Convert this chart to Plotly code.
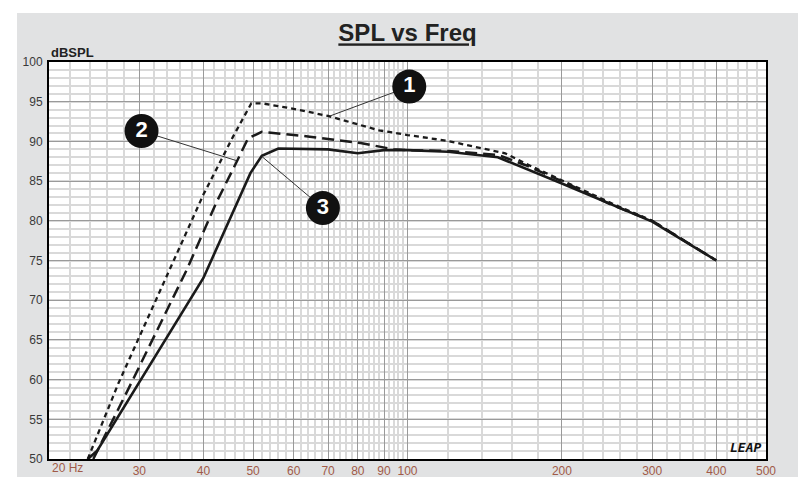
import plotly.graph_objects as go

# ---------------- data ----------------
freq_solid = [23.8, 24.8, 40, 49.4, 52, 56, 70, 80, 90, 100, 120, 138, 150, 200, 300, 400]
spl_solid = [50, 51, 72.8, 86.0, 88.2, 89.1, 89.0, 88.5, 88.9, 88.9, 88.7, 88.3, 88.0, 84.7, 79.9, 75.0]

freq_dot = [23.8, 27.3, 40, 45.7, 49.6, 52, 60, 70, 88, 100, 119, 138, 155, 170, 200, 250, 300, 400]
spl_dot = [50, 59.5, 83.3, 90.6, 94.8, 94.8, 94.1, 93.2, 91.4, 90.8, 90.1, 89.2, 88.5, 87.2, 85.1, 82.2, 80.0, 75.0]

freq_dash = [24.4, 28.6, 37.1, 42.4, 46.5, 48.9, 52, 64.5, 81, 94, 100, 120, 150, 170, 200, 250, 300, 400]
spl_dash = [50, 58.9, 73.8, 82.3, 87.5, 90.4, 91.2, 90.6, 89.8, 89.0, 88.9, 88.8, 88.3, 87.0, 85.0, 82.0, 80.0, 75.0]

callout_text = ["1", "2", "3"]
callout_freq = [100.8, 30.3, 68.4]
callout_spl = [96.9, 91.3, 81.6]
target_freq = [70.6, 46.3, 52.0]
target_spl = [93.2, 87.6, 88.1]

x_tickvals = [20, 30, 40, 50, 60, 70, 80, 90, 100, 200, 300, 400, 500]
x_ticktext = ["", "30", "40", "50", "60", "70", "80", "90", "100", "200", "300", "400", "500"]
x_minor = ([22, 24, 26, 28, 32, 34, 36, 38, 42, 44, 46, 48, 52, 54, 56, 58, 62, 64, 66, 68,
            72, 74, 76, 78, 82, 84, 86, 88, 92, 94, 96, 98]
           + list(range(120, 200, 20)) + list(range(220, 300, 20))
           + list(range(320, 400, 20)) + list(range(420, 500, 20)))
y_tickvals = [50, 55, 60, 65, 70, 75, 80, 85, 90, 95, 100]

FONT = "Liberation Sans Narrow, Arial Narrow, Liberation Sans, Arial, sans-serif"
TICK_RED = "#a05a48"

# page body adds an 8px margin; the figure is sized to fill the rest of the window
W, H = 798, 469
ML, MR, MT, MB = 41, 40, 54, 18
PW, PH = W - ML - MR, H - MT - MB

fig = go.Figure()

fig.add_trace(go.Scatter(x=freq_solid, y=spl_solid, mode="lines",
                         line=dict(color="#1a1a1a", width=2.6)))
fig.add_trace(go.Scatter(x=freq_dash, y=spl_dash, mode="lines",
                         line=dict(color="#1a1a1a", width=2.5, dash="12px,6px")))
fig.add_trace(go.Scatter(x=freq_dot, y=spl_dot, mode="lines",
                         line=dict(color="#1a1a1a", width=2.3, dash="5px,4px")))

# leader lines
lx, ly = [], []
for cf, cs, tf, ts in zip(callout_freq, callout_spl, target_freq, target_spl):
    lx += [cf, tf, None]
    ly += [cs, ts, None]
fig.add_trace(go.Scatter(x=lx, y=ly, mode="lines", line=dict(color="#333333", width=1)))

# numbered circles
fig.add_trace(go.Scatter(x=callout_freq, y=callout_spl, mode="markers+text",
                         text=["<b>%s</b>" % t for t in callout_text],
                         textposition="middle center",
                         textfont=dict(color="white", size=22, family="Liberation Sans, Arial"),
                         marker=dict(size=34, color="#111111", line=dict(width=0))))

fig.update_xaxes(type="log", range=[1.30103, 2.69897], automargin=False,
                 tickmode="array", tickvals=x_tickvals, ticktext=x_ticktext,
                 tickfont=dict(color=TICK_RED, size=12, family=FONT),
                 ticks="", showgrid=True, gridcolor="#9a9a9a", gridwidth=1,
                 minor=dict(tickmode="array", tickvals=x_minor, showgrid=True,
                            gridcolor="#d9d9d9", gridwidth=1.6, ticks=""),
                 showline=True, linecolor="black", linewidth=2, mirror=True,
                 zeroline=False, ticklabelstandoff=0)
fig.update_yaxes(range=[50, 100], tickmode="array", tickvals=y_tickvals, automargin=False,
                 tickfont=dict(color="#3a3a3a", size=12, family=FONT),
                 ticks="", showgrid=True, gridcolor="#9a9a9a", gridwidth=1,
                 minor=dict(dtick=1, showgrid=True, gridcolor="#d9d9d9", gridwidth=1.6, ticks=""),
                 showline=True, linecolor="black", linewidth=2, mirror=True,
                 zeroline=False, ticklabelstandoff=2)

fig.update_layout(
    width=W, height=H,
    margin=dict(l=ML, r=MR, t=MT, b=MB, autoexpand=False),
    paper_bgcolor="#e1e2e3", plot_bgcolor="white",
    showlegend=False,
    title=dict(text="<b>SPL vs Freq</b>", xref="paper", x=0.5, xanchor="center",
               yref="container", y=1 - 25 / H, yanchor="middle",
               font=dict(size=24, color="#222222", family=FONT, lineposition="under")),
    shapes=[
        dict(type="rect", xref="paper", yref="paper", x0=-1, x1=2, y0=(PH + MT - 5) / PH, y1=3,
             fillcolor="white", line=dict(width=0), layer="below"),
        dict(type="rect", xref="paper", yref="paper", x0=-1, x1=(9 - ML) / PW, y0=-1, y1=3,
             fillcolor="white", line=dict(width=0), layer="below"),
    ],
    annotations=[
        dict(text="<b>dBSPL</b>", xref="paper", yref="paper", x=0, y=1, xanchor="left",
             yanchor="bottom", showarrow=False, yshift=0,
             font=dict(size=13, color="#222222", family=FONT)),
        dict(text="20 Hz", xref="paper", yref="paper", x=0, y=0, xanchor="left",
             yanchor="top", showarrow=False, xshift=1, yshift=0,
             font=dict(size=12, color=TICK_RED, family=FONT)),
        dict(text="<b><i>LEAP</i></b>", xref="paper", yref="paper", x=1, y=0, xanchor="right",
             yanchor="bottom", showarrow=False, xshift=-3, yshift=2,
             font=dict(size=13, color="#111111", family="DejaVu Sans Mono, monospace")),
    ],
)

fig.write_html("out.html")
